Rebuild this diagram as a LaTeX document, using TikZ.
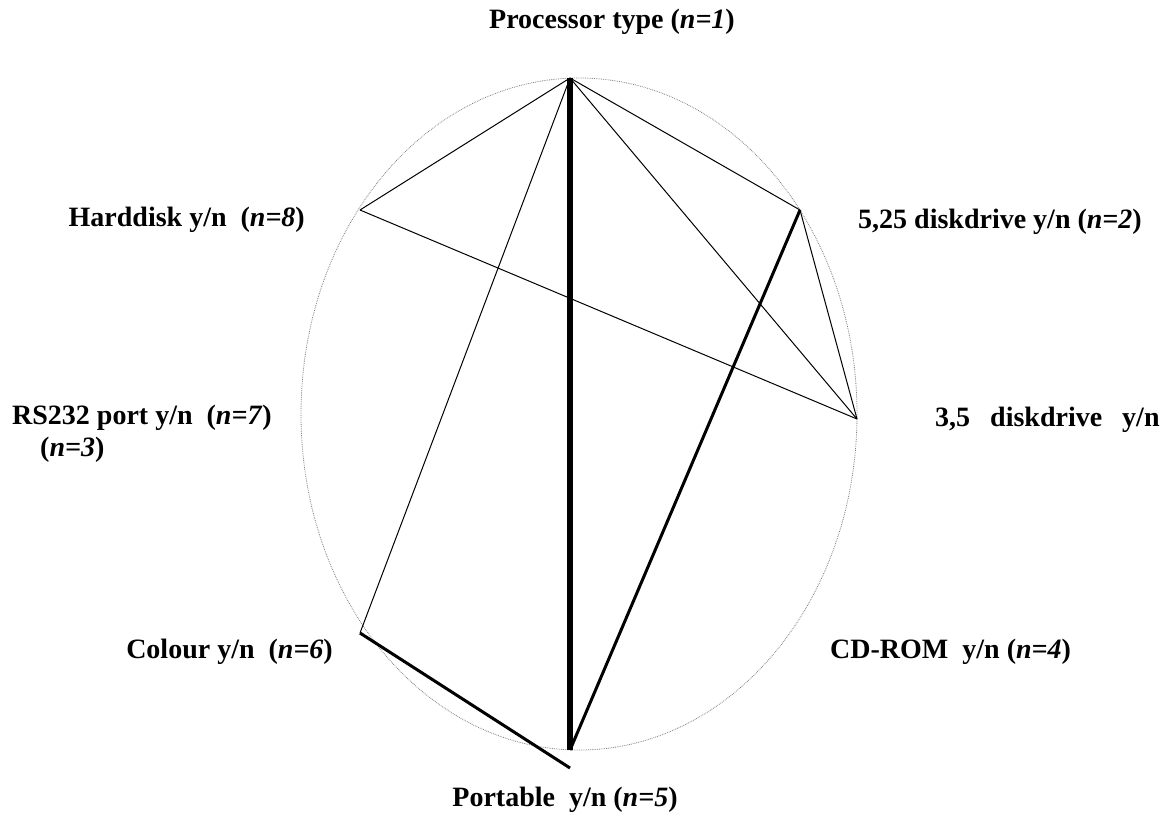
\documentclass[tikz,border=0pt]{standalone}
\usepackage{fontspec}
\setmainfont{Liberation Serif}
\begin{document}
\begin{tikzpicture}[x=1pt,y=-1pt,
  lbl/.style={font=\fontsize{28}{32}\selectfont\bfseries, inner sep=0pt},
  thin/.style={line width=1pt},
  mid/.style={line width=3pt},
  heavy/.style={line width=6pt},
  rim/.style={draw=gray, densely dotted, line width=0.8pt}]
\useasboundingbox (0,0) rectangle (1174,820);
\draw[rim] (579,414) ellipse [x radius=278, y radius=336];
\coordinate (p1) at (570,78);
\coordinate (p2) at (800,210);
\coordinate (p3) at (857,419);
\coordinate (p5) at (570,750);
\coordinate (p6) at (360,633);
\coordinate (p8) at (360,210);
\coordinate (p5e) at (570,768);
\draw[thin] (p1) -- (p8);
\draw[thin] (p1) -- (p6);
\draw[thin] (p1) -- (p2);
\draw[thin] (p1) -- (p3);
\draw[thin] (p8) -- (p3);
\draw[thin] (p2) -- (p3);
\draw[heavy] (p1) -- (p5);
\draw[mid] (p2) -- (p5);
\draw[mid] (p6) -- (p5e);
\node[lbl] (l1) at (612,22) {Processor type (\textit{n=1})};
\node[lbl, anchor=west] (l2) at (858,222) {5,25 diskdrive y/n (\textit{n=2})};
\node[lbl, anchor=west] (l3) at (935,420) {3,5\hspace{20pt}diskdrive\hspace{20pt}y/n};
\node[lbl, anchor=east] (l8) at (305,220) {Harddisk y/n\ \ (\textit{n=8})};
\node[lbl, anchor=west] (l7) at (12,418) {RS232 port y/n\ \ (\textit{n=7})};
\node[lbl, anchor=west] (l7b) at (40,450) {(\textit{n=3})};
\node[lbl, anchor=east] (l6) at (333,652) {Colour y/n\ \ (\textit{n=6})};
\node[lbl, anchor=west] (l4) at (830,652) {CD-ROM\ \ y/n (\textit{n=4})};
\node[lbl] (l5) at (565,800) {Portable\ \ y/n (\textit{n=5})};
\end{tikzpicture}
\end{document}
